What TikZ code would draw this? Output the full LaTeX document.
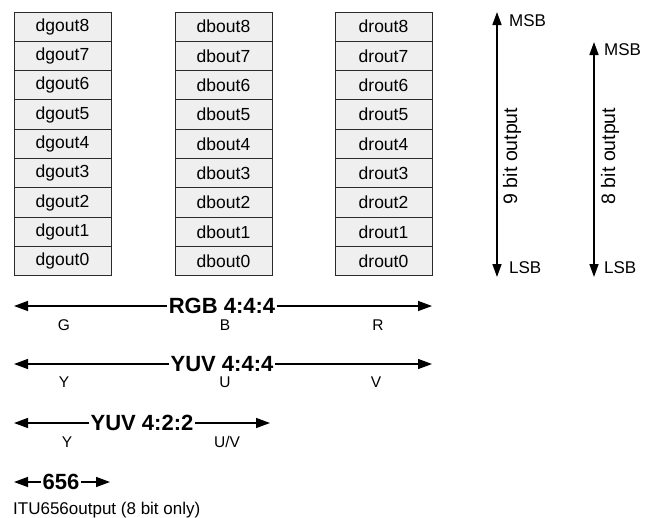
\documentclass[tikz,border=0pt]{standalone}
\usepackage{fontspec}
\setmainfont{Liberation Sans}
\usetikzlibrary{arrows.meta}
\definecolor{boxfill}{HTML}{EFEFEF}
\definecolor{boxline}{HTML}{2A2A2A}
\begin{document}
\begin{tikzpicture}[x=1pt,y=-1pt,
  reg/.style={draw=boxline, fill=boxfill, line width=1pt, minimum width=97pt, minimum height=29.33pt, inner sep=0pt, font=\fontsize{17.5}{17.5}\selectfont},
  bus/.style={line width=1.4pt, -{Triangle[length=14pt,width=10pt]}},
  vbus/.style={line width=1.6pt, {Triangle[length=13pt,width=9pt]}-{Triangle[length=13pt,width=9pt]}},
  big/.style={font=\bfseries\fontsize{22}{22}\selectfont, inner sep=1.5pt},
  sub/.style={font=\fontsize{15.5}{15.5}\selectfont, inner sep=0pt},
  side/.style={font=\fontsize{17}{17}\selectfont, anchor=west, inner sep=0pt},
  rot/.style={font=\fontsize{19.5}{19.5}\selectfont, rotate=90, inner sep=0pt},
]
\useasboundingbox (0,0) rectangle (645,517);

% register columns
\foreach \i in {0,...,8} {
  \node[reg] (g\i) at (62.5, {26.67+29.33*(8-\i)}) {dgout\i};
  \node[reg] (b\i) at (223.5, {26.67+29.33*(8-\i)}) {dbout\i};
  \node[reg] (r\i) at (383.5, {26.67+29.33*(8-\i)}) {drout\i};
}

% 9 bit output
\coordinate (n9top) at (497,12);
\coordinate (n9bot) at (497,277);
\draw[vbus] (n9bot) -- (n9top);
\node[side] (msb9) at (509,21) {MSB};
\node[side] (lsb9) at (509,268) {LSB};
\node[rot] (lab9) at (512,156) {9 bit output};

% 8 bit output
\coordinate (n8top) at (594,42);
\coordinate (n8bot) at (594,277);
\draw[vbus] (n8bot) -- (n8top);
\node[side] (msb8) at (604,50) {MSB};
\node[side] (lsb8) at (604,268) {LSB};
\node[rot] (lab8) at (610,156) {8 bit output};

% RGB 4:4:4
\node[big] (rgb) at (222,306) {RGB 4:4:4};
\coordinate (rgbL) at (14,306);
\coordinate (rgbR) at (432,306);
\draw[bus] (rgb) -- (rgbL);
\draw[bus] (rgb) -- (rgbR);
\node[sub] (lG) at (64,325) {G};
\node[sub] (lB) at (225,325) {B};
\node[sub] (lR) at (378,325) {R};

% YUV 4:4:4
\node[big] (yuv4) at (222,364) {YUV 4:4:4};
\coordinate (yuv4L) at (14,364);
\coordinate (yuv4R) at (432,364);
\draw[bus] (yuv4) -- (yuv4L);
\draw[bus] (yuv4) -- (yuv4R);
\node[sub] (lY) at (64,382) {Y};
\node[sub] (lU) at (225,382) {U};
\node[sub] (lV) at (376,382) {V};

% YUV 4:2:2
\node[big] (yuv2) at (142,423) {YUV 4:2:2};
\coordinate (yuv2L) at (14,423);
\coordinate (yuv2R) at (270,423);
\draw[bus] (yuv2) -- (yuv2L);
\draw[bus] (yuv2) -- (yuv2R);
\node[sub] (lY2) at (67,442) {Y};
\node[sub] (lUV) at (227,442) {U/V};

% 656
\node[big] (itu) at (61,482) {656};
\coordinate (ituL) at (14,482);
\coordinate (ituR) at (110,482);
\draw[bus] (itu) -- (ituL);
\draw[bus] (itu) -- (ituR);
\node[side] (itutxt) at (13,510) {ITU656output (8 bit only)};
\end{tikzpicture}
\end{document}
